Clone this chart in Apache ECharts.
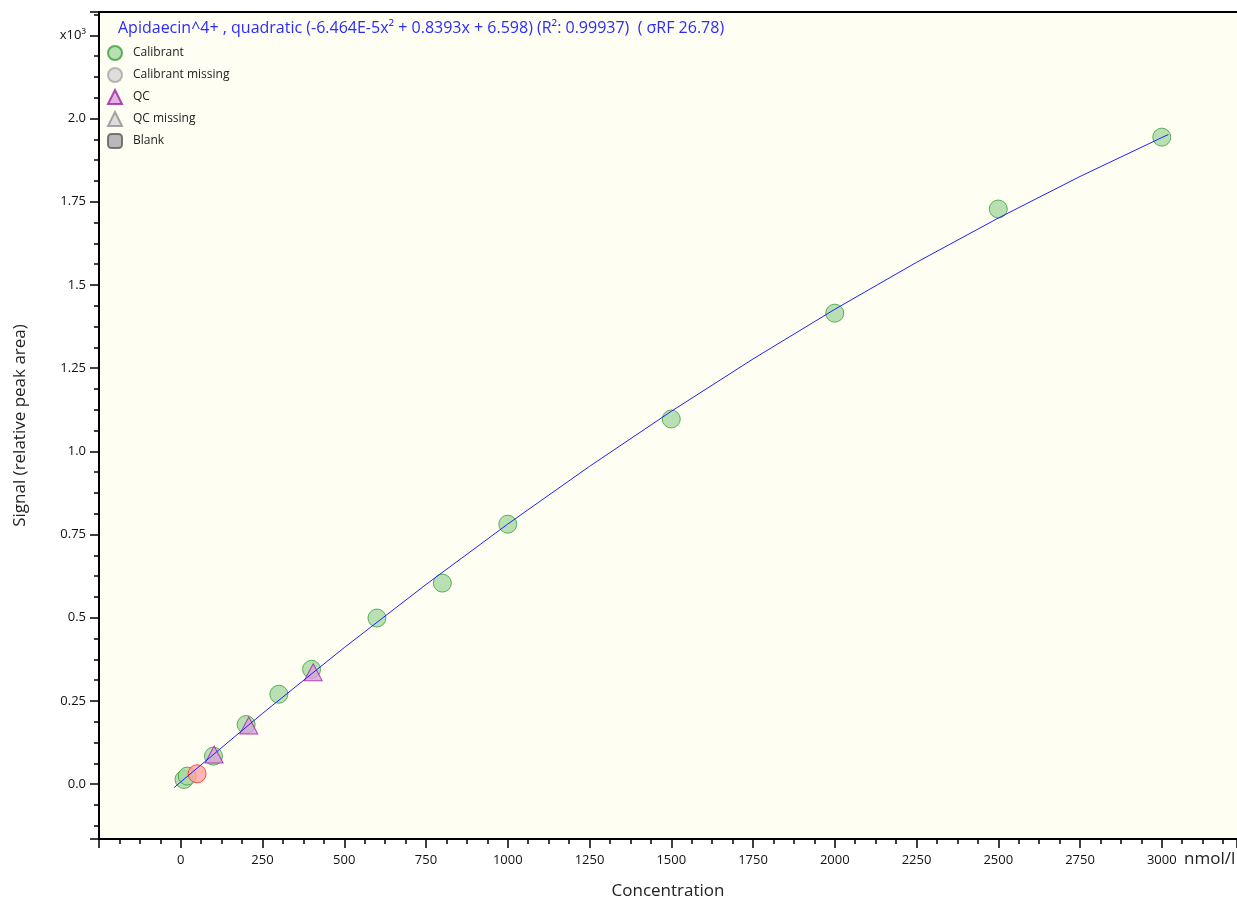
<!DOCTYPE html>
<html>
<head>
<meta charset="utf-8">
<script src="https://cdn.jsdelivr.net/npm/echarts@6/dist/echarts.min.js"></script>
<style>
  html, body { margin: 0; padding: 0; background: #ffffff; }
  #chart { width: 1237px; height: 899px; }
</style>
</head>
<body>
<div id="chart"></div>
<script>
// ---- data ----
const titleText = 'Apidaecin^4+ , quadratic (-6.464E-5x\u00b2 + 0.8393x + 6.598) (R\u00b2: 0.99937)  ( \u03c3RF 26.78)';
const calibrantX = [10, 20, 100, 200, 300, 400, 600, 800, 1000, 1500, 2000, 2500, 3000];
const calibrantY = [14, 24, 84, 179, 270, 345, 499, 604, 781, 1097, 1415, 1728, 1944];
const excludedX = [50];
const excludedY = [31];
const qcX = [102, 208, 405];
const qcY = [89, 176, 336];
const fitX = [-20, 0, 250, 500, 750, 1000, 1250, 1500, 1750, 2000, 2250, 2500, 2750, 3000, 3020];
const fitY = [-10.2, 6.6, 212.4, 410.1, 599.7, 781.3, 954.7, 1120.1, 1277.4, 1426.6, 1567.8, 1700.8, 1825.8, 1942.7, 1951.7];
const xTickValues = [0, 250, 500, 750, 1000, 1250, 1500, 1750, 2000, 2250, 2500, 2750, 3000];
const xTickLabels = ['0', '250', '500', '750', '1000', '1250', '1500', '1750', '2000', '2250', '2500', '2750', '3000'];
const yTickValues = [0, 250, 500, 750, 1000, 1250, 1500, 1750, 2000, 2250];
const yTickLabels = ['0.0', '0.25', '0.5', '0.75', '1.0', '1.25', '1.5', '1.75', '2.0', 'x10\u00b3'];
const legendNames = ['Calibrant', 'Calibrant missing', 'QC', 'QC missing', 'Blank'];

const pairs = (xs, ys) => xs.map((x, i) => [x, ys[i]]);
const FONT = '"Open Sans", "Noto Sans", sans-serif';

const chart = echarts.init(document.getElementById('chart'), null, { renderer: 'canvas' });

const option = {
  animation: false,
  backgroundColor: '#ffffff',
  textStyle: { fontFamily: FONT },
  title: {
    text: titleText,
    left: 113,
    top: 15,
    textStyle: { fontFamily: FONT, fontSize: 16, fontWeight: 'normal', color: '#2b2bff' }
  },
  legend: {
    data: legendNames,
    orient: 'vertical',
    left: 102,
    top: 40,
    itemWidth: 14,
    itemHeight: 14,
    itemGap: 6,
    selectedMode: false,
    textStyle: { fontFamily: FONT, fontSize: 12, color: '#222222', padding: [0, 0, 0, 6] }
  },
  grid: {
    left: 99,
    right: 0,
    top: 12,
    bottom: 60,
    outerBoundsMode: 'none',
    containLabel: false,
    show: true,
    backgroundColor: '#fefef3',
    borderWidth: 0
  },
  xAxis: [{
    type: 'value',
    min: -250,
    max: 3230,
    interval: 250,
    name: 'Concentration',
    nameLocation: 'middle',
    nameGap: 44,
    nameTextStyle: { fontFamily: FONT, fontSize: 17, color: '#222222' },
    axisLine: { show: true, onZero: false, lineStyle: { color: '#000000', width: 2 } },
    axisTick: { show: true, inside: false, length: 9, lineStyle: { color: '#000000', width: 1.5 } },
    minorTick: { show: true, splitNumber: 4, length: 5, lineStyle: { color: '#000000', width: 1.5 } },
    splitLine: { show: false },
    axisLabel: {
      margin: 15,
      fontFamily: FONT,
      fontSize: 13,
      color: '#111111',
      showMinLabel: true,
      showMaxLabel: true,
      formatter: function (v) {
        const i = xTickValues.indexOf(v);
        return i >= 0 ? xTickLabels[i] : '';
      }
    }
  }, {
    type: 'value',
    position: 'top',
    min: -250,
    max: 3230,
    interval: 250,
    axisLine: { show: true, onZero: false, lineStyle: { color: '#000000', width: 2 } },
    axisTick: { show: false },
    axisLabel: { show: false },
    splitLine: { show: false }
  }],
  yAxis: {
    type: 'value',
    min: -165,
    max: 2320,
    minInterval: 250,
    maxInterval: 250,
    name: 'Signal (relative peak area)',
    nameLocation: 'middle',
    nameGap: 70,
    nameTextStyle: { fontFamily: FONT, fontSize: 17, color: '#222222' },
    axisLine: { show: true, onZero: false, lineStyle: { color: '#000000', width: 2 } },
    axisTick: { show: true, inside: false, length: 9, lineStyle: { color: '#000000', width: 1.5 } },
    minorTick: { show: true, splitNumber: 4, length: 5, lineStyle: { color: '#000000', width: 1.5 } },
    splitLine: { show: false },
    axisLabel: {
      margin: 13,
      fontFamily: FONT,
      fontSize: 13,
      color: '#111111',
      showMinLabel: true,
      showMaxLabel: true,
      formatter: function (v) {
        const i = yTickValues.findIndex(t => Math.abs(t - v) < 1e-6);
        return i >= 0 ? yTickLabels[i] : '';
      }
    }
  },
  graphic: [{
    type: 'text',
    left: 1184,
    top: 851,
    style: { text: 'nmol/l', fontFamily: FONT, fontSize: 17, fill: '#222222' }
  }],
  series: [
    {
      name: 'Calibrant',
      type: 'scatter',
      symbol: 'circle',
      symbolSize: 18,
      data: pairs(calibrantX, calibrantY),
      itemStyle: { color: '#a6d8a1', borderColor: '#3c9e3c', borderWidth: 1 },
      emphasis: { disabled: true },
      z: 2
    },
    {
      name: 'Calibrant excluded',
      type: 'scatter',
      symbol: 'circle',
      symbolSize: 18,
      data: pairs(excludedX, excludedY),
      itemStyle: { color: '#ffa3a3', borderColor: '#ff2a2a', borderWidth: 1 },
      emphasis: { disabled: true },
      z: 2
    },
    {
      name: 'Calibrant missing',
      type: 'scatter',
      symbol: 'circle',
      symbolSize: 16,
      data: [],
      itemStyle: { color: '#d6d6d6', borderColor: '#a6a6a6', borderWidth: 1 }
    },
    {
      name: 'QC',
      type: 'scatter',
      symbol: 'triangle',
      symbolSize: [18, 17],
      data: pairs(qcX, qcY),
      itemStyle: { color: '#d9a3dc', borderColor: '#a21fa2', borderWidth: 1 },
      emphasis: { disabled: true },
      z: 3
    },
    {
      name: 'QC missing',
      type: 'scatter',
      symbol: 'triangle',
      symbolSize: 16,
      data: [],
      itemStyle: { color: '#d4d4d4', borderColor: '#909090', borderWidth: 1 }
    },
    {
      name: 'Blank',
      type: 'scatter',
      symbol: 'roundRect',
      symbolSize: 14,
      data: [],
      itemStyle: { color: '#a8a8a8', borderColor: '#5a5a5a', borderWidth: 1 }
    },
    {
      name: 'Fit',
      type: 'line',
      data: pairs(fitX, fitY),
      symbol: 'none',
      smooth: false,
      lineStyle: { color: '#2020ff', width: 1 },
      emphasis: { disabled: true },
      z: 4
    }
  ]
};

chart.setOption(option);
</script>
</body>
</html>
